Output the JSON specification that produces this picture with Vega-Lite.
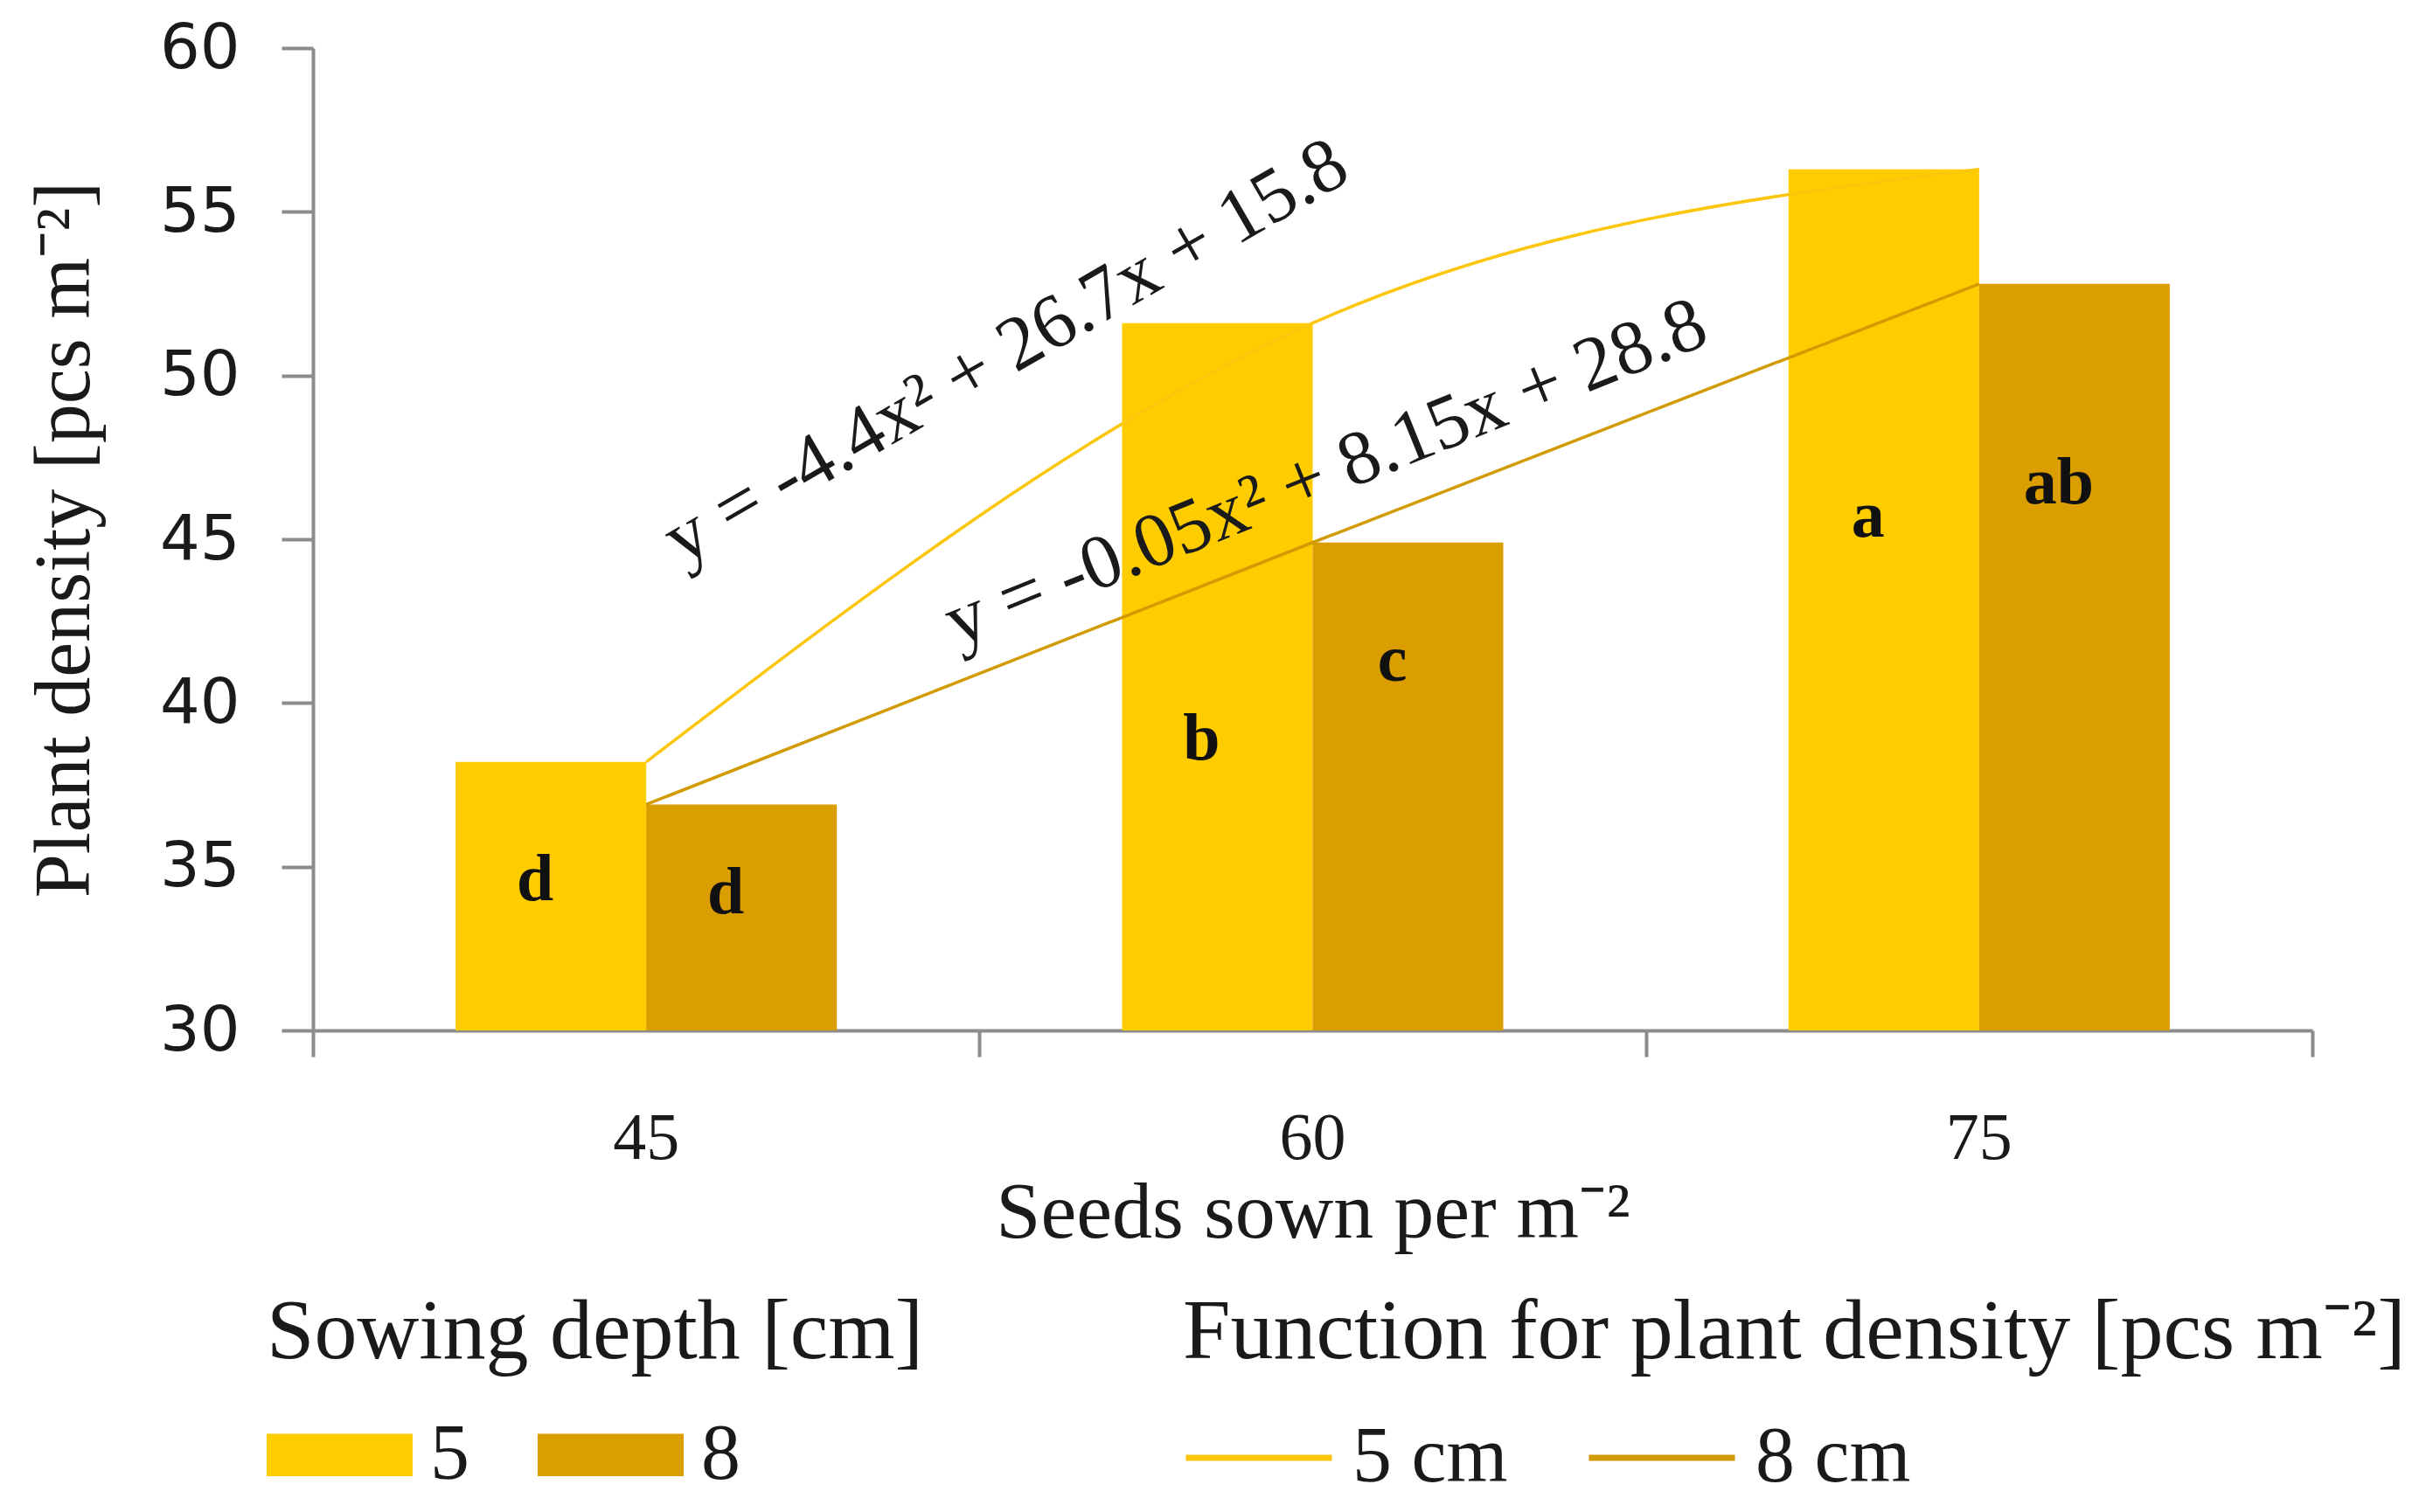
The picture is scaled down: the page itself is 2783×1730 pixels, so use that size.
{
  "$schema": "https://vega.github.io/schema/vega-lite/v6.json",
  "width": 2287,
  "height": 1124,
  "autosize": {"type": "none"},
  "padding": {"left": 358, "top": 55, "right": 138, "bottom": 551},
  "background": "white",
  "config": {
    "view": {"stroke": null},
    "font": "Liberation Serif",
    "axis": {
      "grid": false,
      "domainColor": "#8c8c8c",
      "domainWidth": 4,
      "tickColor": "#8c8c8c",
      "tickWidth": 4,
      "labelColor": "#1a1a1a",
      "titleColor": "#1a1a1a",
      "titleFontWeight": "normal"
    },
    "legend": {
      "titleFont": "Liberation Serif",
      "titleFontSize": 98,
      "titleFontWeight": "normal",
      "titleColor": "#1a1a1a",
      "titleLimit": 3000,
      "labelFont": "Liberation Serif",
      "labelFontSize": 90,
      "labelColor": "#1a1a1a",
      "labelLimit": 1000,
      "labelOffset": 20,
      "columnPadding": 78,
      "padding": 0,
      "titlePadding": 6,
      "symbolSize": 27889
    }
  },
  "datasets": {
    "bars": [
      {"seeds": "45", "depth": "5", "density": 38.2, "letter": "d", "letter_y": 34.6},
      {"seeds": "45", "depth": "8", "density": 36.9, "letter": "d", "letter_y": 34.2},
      {"seeds": "60", "depth": "5", "density": 51.6, "letter": "b", "letter_y": 38.9},
      {"seeds": "60", "depth": "8", "density": 44.9, "letter": "c", "letter_y": 41.3},
      {"seeds": "75", "depth": "5", "density": 56.3, "letter": "a", "letter_y": 45.7},
      {"seeds": "75", "depth": "8", "density": 52.8, "letter": "ab", "letter_y": 46.7}
    ],
    "fits": [
      {"curve": "5 cm", "seeds": 45, "density": 38.2},
      {"curve": "5 cm", "seeds": 60, "density": 51.6},
      {"curve": "5 cm", "seeds": 75, "density": 56.3},
      {"curve": "8 cm", "seeds": 45, "density": 36.9},
      {"curve": "8 cm", "seeds": 60, "density": 44.9},
      {"curve": "8 cm", "seeds": 75, "density": 52.8}
    ],
    "equations": [
      {"curve": "5 cm", "seeds": 53.1, "density": 50.7, "label": "y = -4.4x² + 26.7x + 15.8"},
      {"curve": "8 cm", "seeds": 60.3, "density": 47.0, "label": "y = -0.05x² + 8.15x + 28.8"}
    ]
  },
  "layer": [
    {
      "data": {"name": "bars"},
      "layer": [
        {
          "mark": {"type": "bar"},
          "encoding": {
            "x": {
              "field": "seeds",
              "type": "ordinal",
              "scale": {"paddingInner": 0.428, "paddingOuter": 0.214},
              "axis": {
                "orient": "bottom",
                "title": "Seeds sown per m⁻²",
                "labelAngle": 0,
                "labelFont": "Liberation Serif",
                "labelFontSize": 76,
                "labelPadding": 86,
                "ticks": false,
                "titleFont": "Liberation Serif",
                "titleFontSize": 92,
                "titlePadding": 2
              }
            },
            "xOffset": {"field": "depth", "type": "nominal", "scale": {"paddingInner": 0}},
            "y": {
              "field": "density",
              "type": "quantitative",
              "scale": {"domain": [30, 60], "zero": false, "nice": false},
              "axis": {
                "title": "Plant density [pcs m⁻²]",
                "values": [30, 35, 40, 45, 50, 55, 60],
                "labelFont": "DejaVu Sans",
                "labelFontSize": 72,
                "labelPadding": 48,
                "tickSize": 36,
                "titleFont": "Liberation Serif",
                "titleFontSize": 90,
                "titlePadding": 62
              }
            },
            "y2": {"datum": 30},
            "color": {
              "field": "depth",
              "type": "nominal",
              "scale": {"domain": ["5", "8"], "range": ["#FFCC00", "#DB9E00"]},
              "legend": {
                "title": "Sowing depth [cm]",
                "orient": "none",
                "legendX": -53,
                "legendY": 1422,
                "direction": "horizontal",
                "symbolType": "M-1,-0.29L1,-0.29L1,0.29L-1,0.29Z",
                "symbolStrokeWidth": 0,
                "symbolOpacity": 1
              }
            }
          }
        },
        {
          "mark": {"type": "text", "font": "Liberation Serif", "fontWeight": "bold", "fontSize": 76, "color": "#111111", "baseline": "middle", "dx": -18},
          "encoding": {
            "x": {"field": "seeds", "type": "ordinal"},
            "xOffset": {"field": "depth", "type": "nominal"},
            "y": {"field": "letter_y", "type": "quantitative"},
            "text": {"field": "letter"}
          }
        }
      ]
    },
    {
      "layer": [
        {
          "data": {"name": "fits"},
          "mark": {"type": "line", "interpolate": "monotone"},
          "encoding": {
            "x": {
              "field": "seeds",
              "type": "quantitative",
              "scale": {"domain": [37.5, 82.5], "nice": false, "zero": false},
              "axis": {
                "orient": "bottom",
                "values": [37.5, 52.5, 67.5, 82.5],
                "labels": false,
                "title": null,
                "domain": false,
                "tickSize": 30
              }
            },
            "y": {"field": "density", "type": "quantitative"},
            "strokeWidth": {"value": 3.5},
            "stroke": {
              "field": "curve",
              "type": "nominal",
              "scale": {"domain": ["5 cm", "8 cm"], "range": ["#FCC60C", "#D29B04"]},
              "legend": {
                "title": "Function for plant density [pcs m⁻²]",
                "orient": "none",
                "legendX": 995,
                "legendY": 1422,
                "direction": "horizontal",
                "symbolType": "stroke",
                "symbolStrokeWidth": 7
              }
            }
          }
        },
        {
          "data": {"name": "equations"},
          "transform": [{"filter": "datum.curve === '5 cm'"}],
          "mark": {"type": "text", "font": "Liberation Serif", "fontSize": 88, "angle": 330, "color": "#1a1a1a", "align": "center", "baseline": "middle"},
          "encoding": {
            "x": {"field": "seeds", "type": "quantitative"},
            "y": {"field": "density", "type": "quantitative"},
            "text": {"field": "label"}
          }
        },
        {
          "data": {"name": "equations"},
          "transform": [{"filter": "datum.curve === '8 cm'"}],
          "mark": {"type": "text", "font": "Liberation Serif", "fontSize": 88, "angle": 338, "color": "#1a1a1a", "align": "center", "baseline": "middle"},
          "encoding": {
            "x": {"field": "seeds", "type": "quantitative"},
            "y": {"field": "density", "type": "quantitative"},
            "text": {"field": "label"}
          }
        }
      ]
    }
  ],
  "resolve": {"scale": {"x": "independent"}, "axis": {"x": "independent"}}
}
